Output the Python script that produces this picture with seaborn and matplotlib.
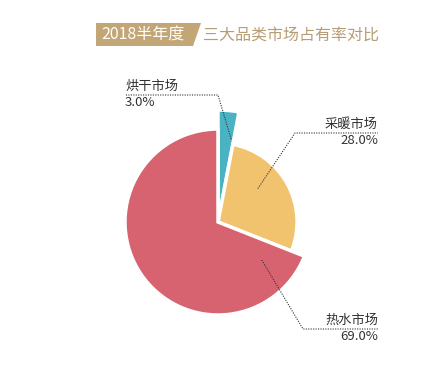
import numpy as np
import seaborn as sns
import matplotlib.pyplot as plt
from matplotlib.patches import Polygon

sns.set_theme(style='white')
plt.rcParams['font.family'] = ['Noto Sans CJK SC', 'DejaVu Sans']

# data
labels = ['烘干市场', '采暖市场', '热水市场']
shares = [3.0, 28.0, 69.0]
title_tag = '2018半年度'
title_text = '三大品类市场占有率对比'

colors = ['#4ab3c3', '#f2c36e', '#d6636f']
radii = [112, 79, 93]
explode = [0.0, 0.08, 0.0]

W, H = 436, 382
fig = plt.figure(figsize=(W / 100, H / 100), dpi=100)
ax = fig.add_axes([0, 0, 1, 1])

cx, cy = 218, H - 222
wedges, _ = ax.pie(shares, colors=colors, startangle=90, counterclock=False,
                   center=(cx, cy), radius=93, explode=explode,
                   wedgeprops=dict(edgecolor='white', linewidth=2.5))
for w, r in zip(wedges, radii):
    w.set_radius(r)

# pie() sets its own limits, so fix them afterwards (1 unit = 1 px)
ax.set_xlim(0, W)
ax.set_ylim(0, H)
ax.set_aspect('equal')
ax.axis('off')

# leader lines: anchor inside wedge -> elbow -> horizontal
anchor_ang = [81, 40, -41]
anchor_dist = [84, 52, 58]
elbows = [(218, H - 95), (295, H - 133), (303, H - 329)]
ends = [(125, H - 95), (378, H - 133), (378, H - 329)]
for w, a, d, e, t, lab, v in zip(wedges, anchor_ang, anchor_dist, elbows, ends,
                                 labels, shares):
    x0 = w.center[0] + d * np.cos(np.deg2rad(a))
    y0 = w.center[1] + d * np.sin(np.deg2rad(a))
    ax.plot([x0, e[0], t[0]], [y0, e[1], t[1]], color='#333333',
            lw=0.8, ls=(0, (1, 1.2)))
    ha = 'left' if t[0] < e[0] else 'right'
    ax.text(t[0], t[1] + 2, lab, ha=ha, va='bottom', fontsize=9.5, color='#333333')
    ax.text(t[0], t[1] - 1, f'{v:.1f}%', ha=ha, va='top', fontsize=9.5, color='#333333')

# title
box = Polygon([(96, H - 23), (201, H - 23), (193, H - 46), (96, H - 46)],
              closed=True, color='#c3a676', lw=0)
ax.add_patch(box)
ax.text(101, H - 35, title_tag, ha='left', va='center', fontsize=11.5, color='white')
ax.text(203, H - 35, title_text, ha='left', va='center', fontsize=11.5, color='#b69d74')

fig.savefig('out.png', dpi=100)
